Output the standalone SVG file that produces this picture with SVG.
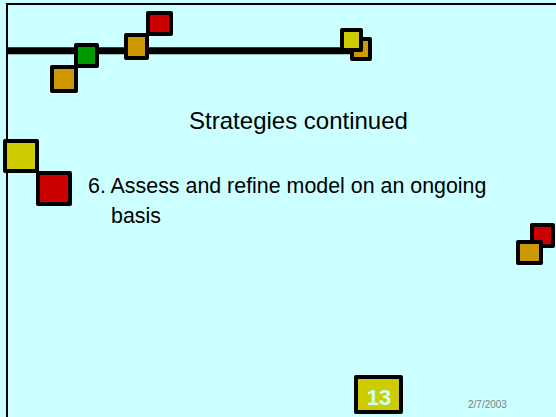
<svg xmlns="http://www.w3.org/2000/svg" width="556" height="417" viewBox="0 0 556 417">
<style>
.sq{stroke:#000;stroke-width:4;stroke-linejoin:round}
.y{fill:#CCCC00}.o{fill:#CC9900}.r{fill:#CC0000}.g{fill:#009900}
.t{font-family:"Liberation Sans",Arial,sans-serif;fill:#000}
</style>
<rect x="0" y="0" width="556" height="417" fill="#CCFFFF"/>
<rect x="7" y="4" width="600" height="500" fill="none" stroke="#000" stroke-width="2"/>
<line x1="7" y1="50.8" x2="352" y2="50.8" stroke="#000" stroke-width="7"/>
<g id="top-squares">
<rect class="sq o" x="52" y="67" width="24" height="24"/>
<rect class="sq g" x="76" y="45" width="21" height="21"/>
<rect class="sq r" x="148" y="13" width="23" height="21"/>
<rect class="sq o" x="126" y="35" width="21" height="23"/>
<rect class="sq o" x="352" y="39" width="18" height="20"/>
<rect class="sq y" x="342" y="30" width="19" height="20"/>
</g>
<g id="left-squares">
<rect class="sq y" x="5" y="141" width="32" height="30"/>
<rect class="sq r" x="38" y="173" width="32" height="31"/>
</g>
<g id="right-squares">
<rect class="sq r" x="532" y="225" width="21" height="21"/>
<rect class="sq o" x="518" y="242" width="23" height="21"/>
</g>
<g id="title">
<text class="t" x="298.5" y="129" font-size="24" text-anchor="middle">Strategies continued</text>
</g>
<g id="body">
<text class="t" x="88" y="193" font-size="21.4" fill="#111">6. Assess and refine model on an ongoing</text>
<text class="t" x="111" y="223" font-size="21.4" fill="#111">basis</text>
</g>
<g id="page-number">
<rect class="sq y" x="356" y="377" width="45" height="35"/>
<text class="t" x="379" y="405" font-size="22" font-weight="bold" text-anchor="middle" style="fill:#CCFFFF">13</text>
</g>
<g id="date">
<text class="t" x="468" y="408" font-size="10" style="fill:#808080">2/7/2003</text>
</g>
</svg>
